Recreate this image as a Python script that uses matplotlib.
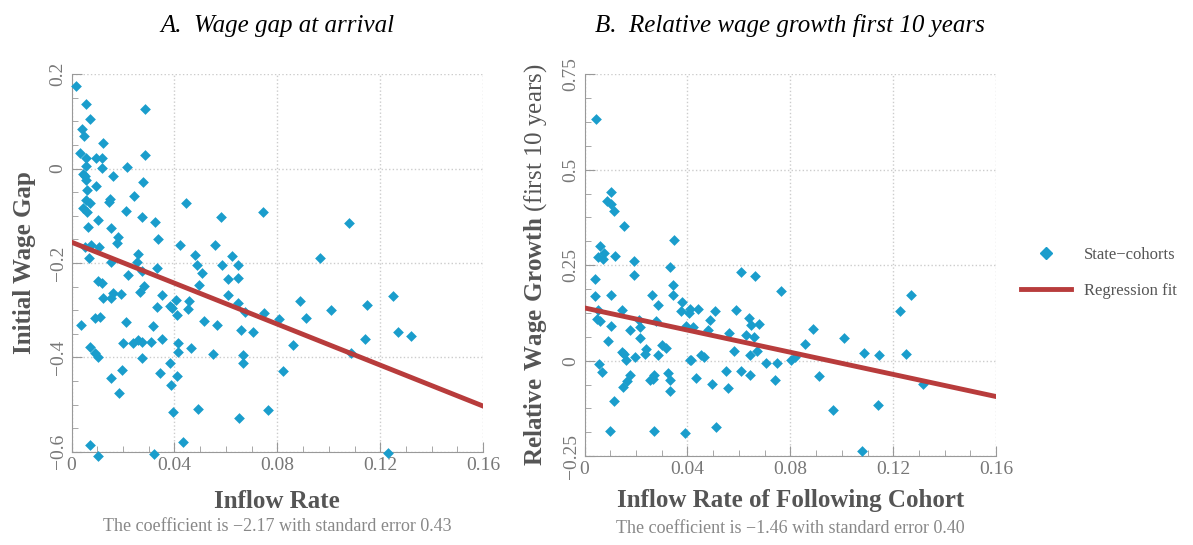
import numpy as np
import matplotlib.pyplot as plt
from matplotlib.lines import Line2D

plt.rcParams['font.family'] = ['Liberation Serif', 'DejaVu Serif']
plt.rcParams['mathtext.fontset'] = 'custom'
plt.rcParams['mathtext.bf'] = 'Liberation Serif:bold'
plt.rcParams['mathtext.rm'] = 'Liberation Serif'

# Panel A: inflow rate vs initial wage gap
a_x = [0.0016, 0.0057, 0.0287, 0.0070, 0.0041, 0.0049, 0.0122, 0.0031, 0.0057, 0.0093,
       0.0117, 0.0287, 0.0057, 0.0119, 0.0216, 0.0044, 0.0054, 0.0161, 0.0057, 0.0277,
       0.0093, 0.0060, 0.0243, 0.0057, 0.0148, 0.0145, 0.0072, 0.0443, 0.0044, 0.0060,
       0.0212, 0.0743, 0.0274, 0.0580, 0.0104, 0.0326, 0.1080, 0.0062, 0.0155, 0.0181,
       0.0337, 0.0176, 0.0422, 0.0557, 0.0052, 0.0075, 0.0106, 0.0259, 0.0479, 0.0624,
       0.0067, 0.0256, 0.0153, 0.0966, 0.0489, 0.0585, 0.0645, 0.0274, 0.0334, 0.0507,
       0.0220, 0.0608, 0.0647, 0.0101, 0.0119, 0.0497, 0.0282, 0.0267, 0.0161, 0.0194,
       0.0350, 0.0608, 0.1250, 0.0124, 0.0155, 0.0406, 0.0458, 0.0888, 0.0645, 0.1147,
       0.0334, 0.0381, 0.0391, 0.0453, 0.1010, 0.0673, 0.0748, 0.0409, 0.0091, 0.0111,
       0.0210, 0.0805, 0.0911, 0.0513, 0.0036, 0.0318, 0.0567, 0.0660, 0.0707, 0.1269,
       0.1318, 0.0350, 0.1139, 0.0199, 0.0238, 0.0259, 0.0272, 0.0308, 0.0412, 0.0070,
       0.0463, 0.0860, 0.0414, 0.0549, 0.1087, 0.0091, 0.0101, 0.0272, 0.0668, 0.0665,
       0.0381, 0.0197, 0.0823, 0.0344, 0.0155, 0.0409, 0.0386, 0.0186, 0.0396, 0.0492,
       0.0650, 0.0764, 0.0070, 0.0435, 0.0104, 0.0321, 0.1230]
a_y = [0.174, 0.136, 0.126, 0.104, 0.084, 0.069, 0.054, 0.033, 0.023, 0.022,
       0.022, 0.029, 0.006, 0.001, 0.004, -0.011, -0.016, -0.016, -0.025, -0.029,
       -0.037, -0.046, -0.059, -0.066, -0.064, -0.070, -0.073, -0.073, -0.084, -0.091,
       -0.090, -0.091, -0.103, -0.103, -0.110, -0.113, -0.116, -0.123, -0.125, -0.145,
       -0.150, -0.158, -0.161, -0.162, -0.167, -0.162, -0.166, -0.182, -0.184, -0.186,
       -0.190, -0.199, -0.199, -0.190, -0.204, -0.204, -0.204, -0.216, -0.211, -0.222,
       -0.225, -0.233, -0.231, -0.239, -0.242, -0.247, -0.249, -0.261, -0.263, -0.266,
       -0.268, -0.267, -0.269, -0.274, -0.274, -0.279, -0.281, -0.281, -0.284, -0.289,
       -0.294, -0.291, -0.296, -0.297, -0.299, -0.304, -0.306, -0.311, -0.317, -0.314,
       -0.324, -0.318, -0.317, -0.323, -0.331, -0.334, -0.331, -0.341, -0.346, -0.346,
       -0.355, -0.361, -0.361, -0.369, -0.370, -0.363, -0.367, -0.367, -0.370, -0.379,
       -0.381, -0.374, -0.389, -0.393, -0.391, -0.391, -0.399, -0.401, -0.394, -0.412,
       -0.411, -0.426, -0.429, -0.433, -0.444, -0.440, -0.459, -0.476, -0.516, -0.509,
       -0.529, -0.511, -0.586, -0.579, -0.609, -0.604, -0.603]
a_fit = (-0.156, -2.17)

# Panel B: inflow of following cohort vs relative wage growth
b_x = [0.0044, 0.0101, 0.0088, 0.0101, 0.0116, 0.0155, 0.0349, 0.0059, 0.0054, 0.0075,
       0.0070, 0.0119, 0.0194, 0.0333, 0.0194, 0.0607, 0.0664, 0.0041, 0.0344, 0.0763,
       0.0039, 0.0103, 0.0264, 0.1269, 0.0344, 0.0287, 0.0377, 0.0054, 0.0145, 0.0375,
       0.0408, 0.0406, 0.0442, 0.0587, 0.0507, 0.1228, 0.0049, 0.0059, 0.0212, 0.0279,
       0.0101, 0.0215, 0.0393, 0.0421, 0.0641, 0.0646, 0.0680, 0.0489, 0.0478, 0.0178,
       0.0887, 0.0563, 0.0626, 0.0659, 0.0217, 0.1008, 0.0090, 0.0856, 0.0302, 0.0315,
       0.0147, 0.0238, 0.0235, 0.0155, 0.0669, 0.0579, 0.0452, 0.0463, 0.0287, 0.0196,
       0.0160, 0.0408, 0.0414, 0.0644, 0.0804, 0.0819, 0.1086, 0.1145, 0.1248, 0.0057,
       0.0706, 0.0747, 0.0067, 0.0548, 0.0607, 0.0326, 0.0271, 0.0176, 0.0644, 0.0912,
       0.0266, 0.0253, 0.0331, 0.0163, 0.0434, 0.0742, 0.0150, 0.0494, 0.0556, 0.1316,
       0.0114, 0.0333, 0.0964, 0.1140, 0.0098, 0.0271, 0.0390, 0.0512, 0.1078]
b_y = [0.632, 0.442, 0.418, 0.411, 0.392, 0.352, 0.315, 0.301, 0.272, 0.282,
       0.267, 0.274, 0.261, 0.246, 0.225, 0.232, 0.221, 0.214, 0.198, 0.183,
       0.169, 0.172, 0.171, 0.171, 0.171, 0.145, 0.153, 0.132, 0.132, 0.131,
       0.134, 0.124, 0.134, 0.132, 0.129, 0.131, 0.110, 0.103, 0.106, 0.103,
       0.092, 0.089, 0.091, 0.087, 0.111, 0.094, 0.096, 0.106, 0.080, 0.080,
       0.082, 0.073, 0.066, 0.063, 0.059, 0.058, 0.051, 0.044, 0.040, 0.032,
       0.023, 0.030, 0.017, 0.017, 0.026, 0.024, 0.014, 0.010, 0.014, 0.010,
       0.003, 0.003, 0.002, 0.016, 0.002, 0.009, 0.019, 0.016, 0.017, -0.009,
       -0.007, -0.005, -0.030, -0.026, -0.028, -0.033, -0.037, -0.038, -0.038, -0.040,
       -0.047, -0.051, -0.051, -0.052, -0.045, -0.051, -0.070, -0.061, -0.071, -0.061,
       -0.106, -0.080, -0.129, -0.115, -0.185, -0.185, -0.190, -0.173, -0.237]
b_fit = (0.138, -1.45)

dot_c = '#1a9dcc'
fit_c = '#b83c3c'
gray = '#777777'

fig = plt.figure(figsize=(11.93, 5.45), dpi=100)
ax1 = fig.add_axes([0.060, 0.171, 0.345, 0.693])
ax2 = fig.add_axes([0.490, 0.163, 0.345, 0.701])


def style(ax, yticks, ylabels, ylim):
    ax.set_xlim(0, 0.16)
    ax.set_ylim(*ylim)
    ax.set_xticks([0, 0.04, 0.08, 0.12, 0.16])
    ax.set_xticklabels(['0', '0.04', '0.08', '0.12', '0.16'])
    ax.set_xticks(np.arange(0, 0.1601, 0.01), minor=True)
    ax.set_yticks(yticks)
    ax.set_yticklabels(ylabels, rotation=90, va='center')
    step = (yticks[1] - yticks[0]) / 4
    ax.set_yticks(np.arange(ylim[0], ylim[1] + 1e-9, step), minor=True)
    for s in ['top', 'right']:
        ax.spines[s].set_visible(False)
    for s in ['left', 'bottom']:
        ax.spines[s].set_color('#999999')
    ax.tick_params(colors='#999999', labelcolor=gray, labelsize=14, length=7, direction='in')
    ax.tick_params(which='minor', colors='#999999', length=4, direction='in')
    ax.grid(True, color='#cccccc', linestyle=':', linewidth=1)
    ax.set_axisbelow(True)


def panel(ax, x, y, fit):
    ax.scatter(x, y, marker='D', s=30, color=dot_c, zorder=3, linewidths=0, clip_on=False)
    xx = np.array([0, 0.16])
    ax.plot(xx, fit[0] + fit[1] * xx, color=fit_c, linewidth=3.5, zorder=4)


panel(ax1, a_x, a_y, a_fit)
style(ax1, [-0.6, -0.4, -0.2, 0, 0.2], ['−0.6', '−0.4', '−0.2', '0', '0.2'], (-0.6, 0.2))
ax1.set_title('A.  Wage gap at arrival', style='italic', fontsize=18, pad=30)
ax1.set_xlabel('Inflow Rate', fontsize=18, fontweight='bold', color='#555555', labelpad=12)
ax1.set_ylabel('Initial Wage Gap', fontsize=18, fontweight='bold', color='#555555', labelpad=10)
ax1.text(0.5, -0.21, 'The coefficient is −2.17 with standard error 0.43', transform=ax1.transAxes,
         ha='center', fontsize=13, color='#888888')

panel(ax2, b_x, b_y, b_fit)
style(ax2, [-0.25, 0, 0.25, 0.5, 0.75], ['−0.25', '0', '0.25', '0.5', '0.75'], (-0.25, 0.75))
ax2.set_title('B.  Relative wage growth first 10 years', style='italic', fontsize=18, pad=30)
ax2.set_xlabel('Inflow Rate of Following Cohort', fontsize=18, fontweight='bold', color='#555555', labelpad=8)
ax2.set_ylabel(r'$\mathbf{Relative\ Wage\ Growth}$ (first 10 years)', fontsize=18, color='#555555', labelpad=10)
ax2.text(0.5, -0.2, 'The coefficient is −1.46 with standard error 0.40', transform=ax2.transAxes,
         ha='center', fontsize=13, color='#888888')

handles = [Line2D([], [], marker='D', color=dot_c, linestyle='none', markersize=6),
           Line2D([], [], color=fit_c, linewidth=3.5)]
fig.legend(handles, ['State−cohorts', 'Regression fit'], loc='upper left',
           bbox_to_anchor=(0.843, 0.575), frameon=False, fontsize=12, labelcolor='#555555',
           handlelength=3, labelspacing=1.2)

fig.savefig('out.png', dpi=100)
